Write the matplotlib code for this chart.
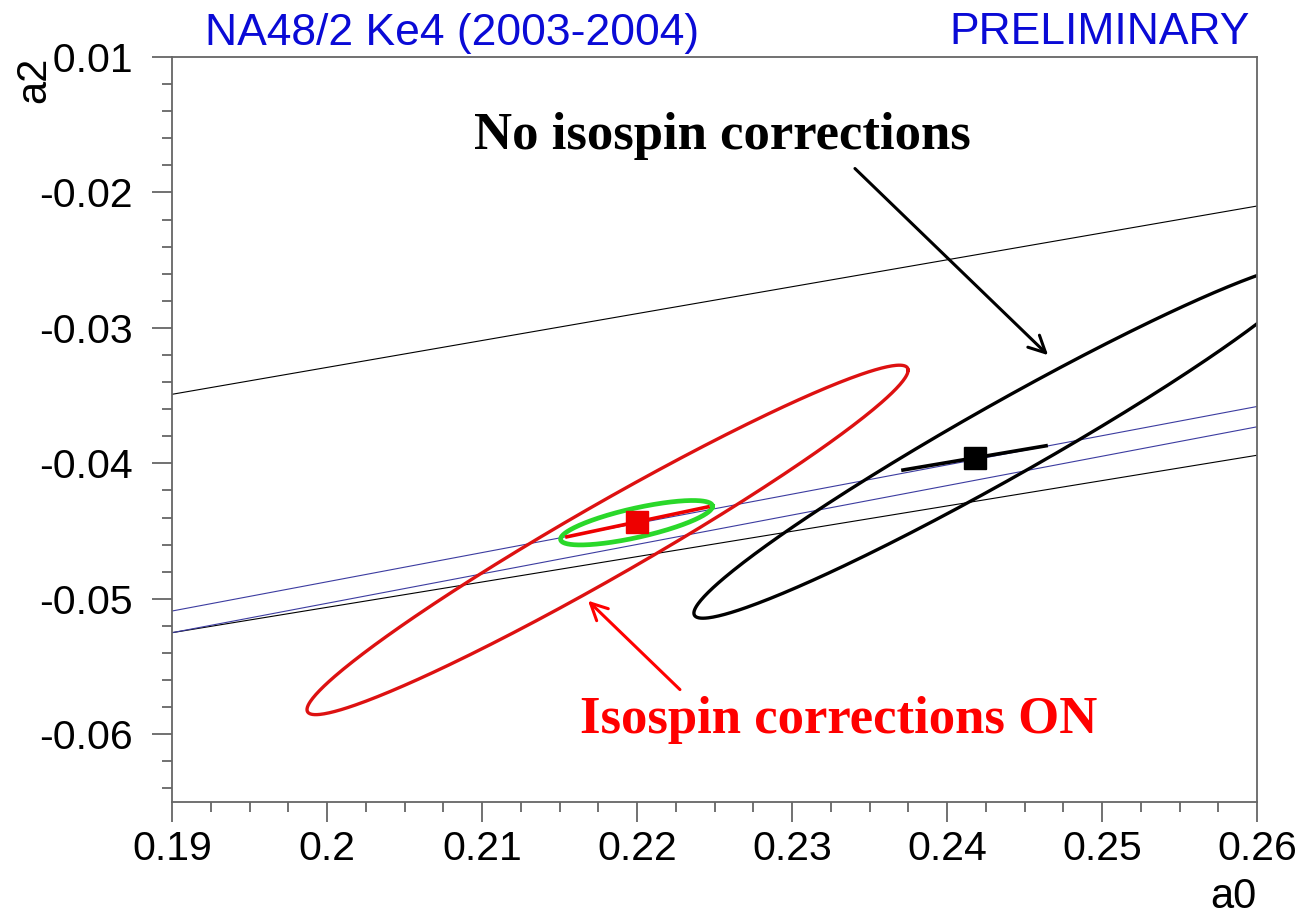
import numpy as np
import matplotlib.pyplot as plt
from matplotlib.ticker import MultipleLocator

plt.rcParams['font.family'] = ['Liberation Sans', 'DejaVu Sans']
plt.rcParams['axes.unicode_minus'] = False

# best fit points
fit_a0 = [0.2200, 0.2418]
fit_a2 = [-0.04432, -0.0396]
fit_colors = ['#ee0000', 'black']

# error segments along the correlation
seg_a0 = [[0.21548, 0.22458], [0.23716, 0.24639]]
seg_a2 = [[-0.04542, -0.04321], [-0.04049, -0.03870]]

# contour ellipses: centre, sigma_a0, sigma_a2, correlation
ell_center = [(0.21810, -0.04565), (0.24361, -0.03835), (0.21997, -0.04438)]
ell_sig_a0 = [0.01939, 0.01994, 0.00490]
ell_sig_a2 = [0.01290, 0.01308, 0.00164]
ell_rho = [0.971, 0.971, 0.74]
ell_colors = ['#dd1111', 'black', '#2ad82a']
ell_widths = [2.4, 2.4, 3.4]

# straight band lines (a0 range, a2 at each end)
band_a0 = [0.19, 0.26]
band_a2 = [[-0.0349, -0.0210],
           [-0.0525, -0.0394],
           [-0.0509, -0.0358],
           [-0.0525, -0.0373]]
band_colors = ['black', 'black', '#3c3ca0', '#3c3ca0']

# arrows: start, end
arrow_start = [(0.23406, -0.01823), (0.22277, -0.0567)]
arrow_end = [(0.24652, -0.03201), (0.21684, -0.05014)]
arrow_colors = ['black', 'red']

fig = plt.figure(figsize=(13.12, 9.17), dpi=100)
ax = fig.add_axes([0.1311, 0.1254, 0.8270, 0.8124])

for ys, c in zip(band_a2, band_colors):
    ax.plot(band_a0, ys, color=c, lw=0.8)

t = np.linspace(0, 2 * np.pi, 400)
for (cx, cy), sx, sy, r, c, w in zip(ell_center, ell_sig_a0, ell_sig_a2, ell_rho, ell_colors, ell_widths):
    ex = cx + sx * np.cos(t)
    ey = cy + sy * (r * np.cos(t) + np.sqrt(1 - r ** 2) * np.sin(t))
    ax.plot(ex, ey, color=c, lw=w)

for xs, ys, c in zip(seg_a0, seg_a2, fit_colors):
    ax.plot(xs, ys, color=c, lw=2.6, zorder=4)
for x, y, c in zip(fit_a0, fit_a2, fit_colors):
    ax.plot(x, y, marker='s', ms=15.5, color=c, mec=c, zorder=5)

for s, e, c in zip(arrow_start, arrow_end, arrow_colors):
    ax.annotate('', xy=e, xytext=s,
                arrowprops=dict(arrowstyle='->', color=c, lw=2.2, mutation_scale=30, shrinkA=0, shrinkB=0))

ax.text(0.22548, -0.0158, 'No isospin corrections', ha='center', va='center',
        fontsize=38, fontweight='bold', family='Liberation Serif')
ax.text(0.23303, -0.05891, 'Isospin corrections ON', ha='center', va='center',
        fontsize=38, fontweight='bold', family='Liberation Serif', color='red')

ax.set_xlim(0.19, 0.26)
ax.set_ylim(-0.065, -0.01)
ax.xaxis.set_major_locator(MultipleLocator(0.01))
ax.xaxis.set_minor_locator(MultipleLocator(0.0025))
ax.yaxis.set_major_locator(MultipleLocator(0.01))
ax.yaxis.set_minor_locator(MultipleLocator(0.002))
ax.xaxis.set_major_formatter(lambda v, p: '0.2' if abs(v - 0.2) < 1e-9 else f'{v:.2f}')
ax.yaxis.set_major_formatter(lambda v, p: f'{v:.2f}')

ax.tick_params(which='both', direction='out', color='#666666', width=1.3, labelsize=29.5)
ax.tick_params(which='major', length=14.5)
ax.tick_params(which='minor', length=7)
ax.tick_params(axis='y', pad=14)
ax.tick_params(axis='x', pad=6)
for s in ax.spines.values():
    s.set_color('#666666')
    s.set_linewidth(1.3)

fig.text(205 / 1312, 1 - 33 / 917, 'NA48/2 Ke4 (2003-2004)', color='#0a0ad6', fontsize=32, ha='left', va='center')
fig.text(1250 / 1312, 1 - 33 / 917, 'PRELIMINARY', color='#0a0ad6', fontsize=32, ha='right', va='center')
fig.text(1233 / 1312, 1 - 897 / 917, 'a0', fontsize=30, ha='center', va='center')
fig.text(34 / 1312, 1 - 80 / 917, 'a2', fontsize=30, ha='center', va='center', rotation=90,
         bbox=dict(facecolor='white', edgecolor='none', pad=0), zorder=10)

fig.savefig('out.png', dpi=100)
